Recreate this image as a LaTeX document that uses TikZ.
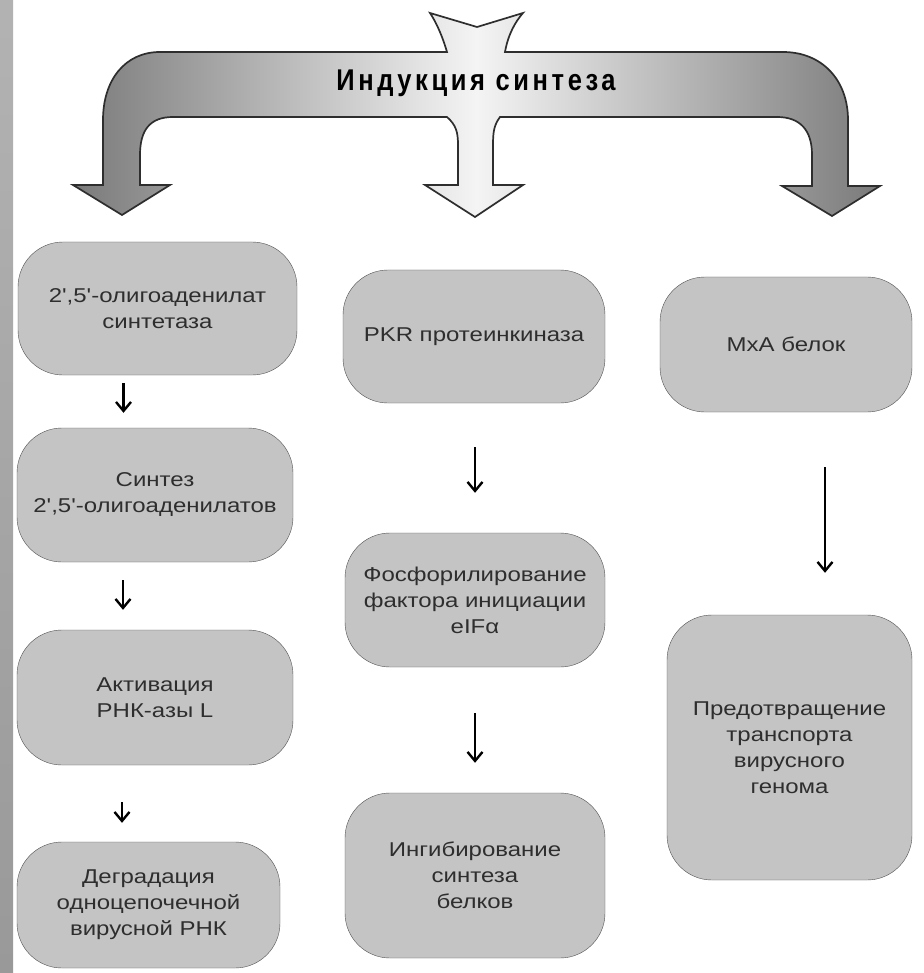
\documentclass[tikz,border=0pt]{standalone}
\usepackage{fontspec}
\setmainfont{Liberation Sans}
\newfontfamily\boxfont{Liberation Sans}[FakeStretch=1.2]
\newfontfamily\headfont{Liberation Sans}[FakeStretch=0.85,LetterSpace=12]
\usetikzlibrary{arrows.meta}
\definecolor{boxfill}{HTML}{C4C4C4}
\definecolor{boxline}{HTML}{505050}
\definecolor{inkgrey}{HTML}{2E2E2E}
\definecolor{bandside}{HTML}{7A7A7A}
\definecolor{bandmid}{HTML}{F4F4F4}

\begin{document}
\begin{tikzpicture}[x=1pt, y=-1pt,
every node/.style={inner sep=0pt},
box/.style={draw=boxline, fill=boxfill, rounded corners=45pt, align=center, text=inkgrey,
  font=\boxfont\fontsize{20}{26}\selectfont},
flow/.style={-{Straight Barb[length=9pt,width=15pt]}, line width=2.4pt, black}]
\useasboundingbox (0,0) rectangle (923,973);

%grey strip on the left edge
\fill[top color=gray!60, bottom color=gray!80] (0,0) rectangle (13,973);

%the arrow that splits into three
\draw[line width=1.7pt, draw=inkgrey, left color=bandside, right color=bandside, middle color=bandmid]
  (430,13) -- (477,27) -- (523,13) .. controls (515,22) and (508,35) .. (505,52)
  -- (783,52) .. controls (822,52) and (848,80) .. (848,120)
  -- (848,186) -- (880,186) -- (832,216) -- (782,186) -- (812,186)
  -- (812,155) .. controls (812,130) and (800,117) .. (777,117)
  -- (500,117) .. controls (494,125) and (493,132) .. (493,145)
  -- (493,185) -- (523,185) -- (475,217) -- (425,185) -- (458,185)
  -- (458,145) .. controls (458,132) and (456,125) .. (447,117)
  -- (173,117) .. controls (150,117) and (140,130) .. (140,155)
  -- (140,185) -- (170,185) -- (122,215) -- (73,185) -- (103,185)
  -- (103,120) .. controls (103,80) and (125,52) .. (160,52)
  -- (447,52) .. controls (442,35) and (436,22) .. cycle;
\node[font=\headfont\bfseries\fontsize{30}{30}\selectfont, text=black] (head) at (476,83) {Индукция синтеза};

%left column
\node[box, minimum width=279pt, minimum height=133pt] (b1) at (157.5,308.5) {2',5'-олигоаденилат\\синтетаза};
\node[box, minimum width=276pt, minimum height=134pt] (b2) at (155,495) {Синтез\\2',5'-олигоаденилатов};
\node[box, minimum width=276pt, minimum height=135pt] (b3) at (155,697.5) {Активация\\РНК-азы L};
\node[box, minimum width=263pt, minimum height=126pt] (b4) at (148.5,905) {Деградация\\одноцепочечной\\вирусной РНК};
%middle column
\node[box, minimum width=262pt, minimum height=133pt] (b5) at (474,336.5) {PKR протеинкиназа};
\node[box, minimum width=260pt, minimum height=134pt] (b6) at (475,600) {Фосфорилирование\\фактора инициации\\eIFα};
\node[box, minimum width=260pt, minimum height=165pt] (b7) at (475,875.5) {Ингибирование\\синтеза\\белков};
%right column
\node[box, minimum width=252pt, minimum height=135pt] (b8) at (786,344.5) {MxA белок};
\node[box, minimum width=245pt, minimum height=265pt] (b9) at (789.5,747.5) {Предотвращение\\транспорта\\вирусного\\генома};

%arrows between boxes: from/to/x offset/gap below/gap above
\foreach \from/\to/\dx/\gapa/\gapb in {b1/b2/-34/8/15, b2/b3/-32/18/20, b3/b4/-33/37/19,
  b5/b6/1/44/40, b6/b7/0/46/30, b8/b9/39/55/42}{
  \coordinate (t) at ([xshift=\dx pt]\from.south);
  \draw[flow] ([yshift=-\gapa pt]t) -- ([yshift=\gapb pt]t |- \to.north);
}
\end{tikzpicture}
\end{document}
